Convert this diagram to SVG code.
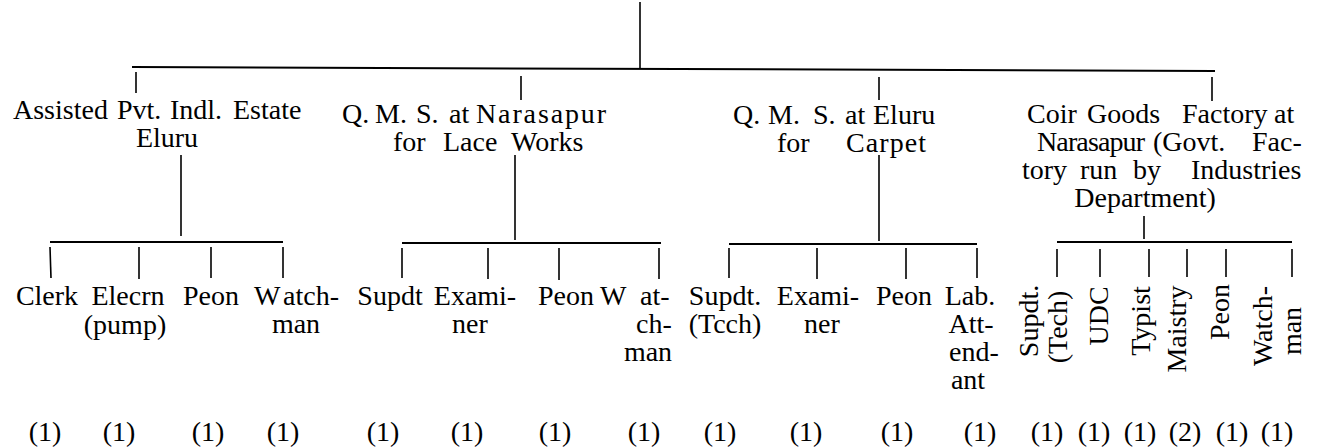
<svg xmlns="http://www.w3.org/2000/svg" width="1319" height="448" viewBox="0 0 1319 448">
<style>
text{font-family:"Liberation Serif","Times New Roman",serif;font-size:28px;fill:#000}
.m{text-anchor:middle}
#connectors line{stroke:#000;stroke-width:1.6;fill:none}
#connectors .bar{stroke-width:2}
</style>
<rect width="1319" height="448" fill="#fff"/>
<g id="connectors">
<line x1="640" y1="2" x2="640" y2="68"/>
<line class="bar" x1="132" y1="67" x2="1215" y2="71"/>
<line x1="136" y1="72" x2="136" y2="93"/>
<line x1="521" y1="76" x2="521" y2="100"/>
<line x1="879" y1="77" x2="879" y2="100"/>
<line x1="1212" y1="77" x2="1212" y2="101"/>
<line x1="181" y1="155" x2="181" y2="236"/>
<line class="bar" x1="50" y1="242" x2="283" y2="242"/>
<line x1="50" y1="247" x2="51" y2="278"/>
<line x1="139" y1="247" x2="139" y2="279"/>
<line x1="211" y1="247" x2="211" y2="278"/>
<line x1="283" y1="247" x2="283" y2="278"/>
<line x1="515" y1="155" x2="515" y2="240"/>
<line class="bar" x1="402" y1="243" x2="661" y2="243"/>
<line x1="402" y1="248" x2="402" y2="278"/>
<line x1="488" y1="248" x2="488" y2="279"/>
<line x1="559" y1="248" x2="559" y2="280"/>
<line x1="659" y1="248" x2="659" y2="279"/>
<line x1="879" y1="155" x2="879" y2="241"/>
<line class="bar" x1="729" y1="244" x2="977" y2="244"/>
<line x1="729" y1="248" x2="729" y2="278"/>
<line x1="817" y1="248" x2="817" y2="279"/>
<line x1="906" y1="248" x2="906" y2="279"/>
<line x1="977" y1="248" x2="977" y2="278"/>
<line x1="1144" y1="216" x2="1144" y2="239"/>
<line class="bar" x1="1057" y1="242" x2="1292" y2="242"/>
<line x1="1057" y1="249" x2="1057" y2="277"/>
<line x1="1100" y1="249" x2="1100" y2="277"/>
<line x1="1149" y1="249" x2="1149" y2="277"/>
<line x1="1187" y1="249" x2="1187" y2="277"/>
<line x1="1226" y1="249" x2="1226" y2="277"/>
<line x1="1292" y1="249" x2="1292" y2="277"/>
</g>
<g id="estate-eluru">
<text y="119"><tspan x="13">Assisted</tspan> <tspan x="117">Pvt.</tspan> <tspan x="170">Indl.</tspan> <tspan x="233">Estate</tspan></text>
<text class="m" x="167" y="147">Eluru</text>
</g>
<g id="qms-narasapur">
<text y="123"><tspan x="342">Q.</tspan> <tspan x="375">M.</tspan> <tspan x="416">S.</tspan> <tspan x="449">at</tspan> <tspan x="476" textLength="130">Narasapur</tspan></text>
<text y="151"><tspan x="393">for</tspan> <tspan x="443">Lace</tspan> <tspan x="511">Works</tspan></text>
</g>
<g id="qms-eluru">
<text y="124"><tspan x="733">Q.</tspan> <tspan x="768">M.</tspan> <tspan x="813">S.</tspan> <tspan x="845">at</tspan> <tspan x="873">Eluru</tspan></text>
<text y="152"><tspan x="777">for</tspan> <tspan x="846" textLength="80">Carpet</tspan></text>
</g>
<g id="coir-factory">
<text y="123"><tspan x="1027">Coir</tspan> <tspan x="1087">Goods</tspan> <tspan x="1182">Factory</tspan> <tspan x="1274">at</tspan></text>
<text y="151"><tspan x="1037" textLength="108">Narasapur</tspan> <tspan x="1153">(Govt.</tspan> <tspan x="1252">Fac-</tspan></text>
<text y="179"><tspan x="1022">tory</tspan> <tspan x="1080">run</tspan> <tspan x="1133">by</tspan> <tspan x="1191">Industries</tspan></text>
<text class="m" x="1145" y="207">Department)</text>
</g>
<g id="b1-clerk"><text class="m" x="47" y="305">Clerk</text><text class="m" x="45" y="441">(1)</text></g>
<g id="b1-elecrn"><text class="m" x="128" y="305">Elecrn</text><text class="m" x="125" y="334">(pump)</text><text class="m" x="119" y="441">(1)</text></g>
<g id="b1-peon"><text class="m" x="211" y="305">Peon</text><text class="m" x="208" y="441">(1)</text></g>
<g id="b1-watchman"><text y="305"><tspan x="254">W</tspan><tspan x="283">atch-</tspan></text><text class="m" x="296" y="333">man</text><text class="m" x="283" y="441">(1)</text></g>
<g id="b2-supdt"><text class="m" x="390" y="305">Supdt</text><text class="m" x="383" y="441">(1)</text></g>
<g id="b2-examiner"><text class="m" x="475" y="305">Exami-</text><text class="m" x="470" y="333">ner</text><text class="m" x="467" y="441">(1)</text></g>
<g id="b2-peon"><text class="m" x="566" y="305">Peon</text><text class="m" x="555" y="441">(1)</text></g>
<g id="b2-watchman"><text y="305"><tspan x="600">W</tspan><tspan x="640">at-</tspan></text><text class="m" x="654" y="333">ch-</text><text class="m" x="648" y="361">man</text><text class="m" x="644" y="441">(1)</text></g>
<g id="b3-supdt"><text class="m" x="725" y="305">Supdt.</text><text class="m" x="725" y="333">(Tcch)</text><text class="m" x="720" y="441">(1)</text></g>
<g id="b3-examiner"><text class="m" x="818" y="305">Exami-</text><text class="m" x="822" y="333">ner</text><text class="m" x="806" y="441">(1)</text></g>
<g id="b3-peon"><text class="m" x="904" y="305">Peon</text><text class="m" x="897" y="441">(1)</text></g>
<g id="b3-lab"><text class="m" x="970" y="305">Lab.</text><text class="m" x="971" y="333">Att-</text><text class="m" x="974" y="361">end-</text><text class="m" x="968" y="389">ant</text><text class="m" x="980" y="441">(1)</text></g>
<g id="b4-supdt"><text class="m" transform="translate(1038,321) rotate(-90)">Supdt.</text><text class="m" transform="translate(1067,327) rotate(-90)">(Tech)</text><text class="m" x="1047" y="441">(1)</text></g>
<g id="b4-udc"><text class="m" transform="translate(1108,316) rotate(-90)">UDC</text><text class="m" x="1094" y="441">(1)</text></g>
<g id="b4-typist"><text class="m" transform="translate(1150,321) rotate(-90)">Typist</text><text class="m" x="1140" y="441">(1)</text></g>
<g id="b4-maistry"><text class="m" transform="translate(1186,329) rotate(-90)">Maistry</text><text class="m" x="1185" y="441">(2)</text></g>
<g id="b4-peon"><text class="m" transform="translate(1229,312) rotate(-90)">Peon</text><text class="m" x="1232" y="441">(1)</text></g>
<g id="b4-watchman"><text class="m" transform="translate(1272,326) rotate(-90)">Watch-</text><text class="m" transform="translate(1301,331) rotate(-90)">man</text><text class="m" x="1277" y="441">(1)</text></g>
</svg>
